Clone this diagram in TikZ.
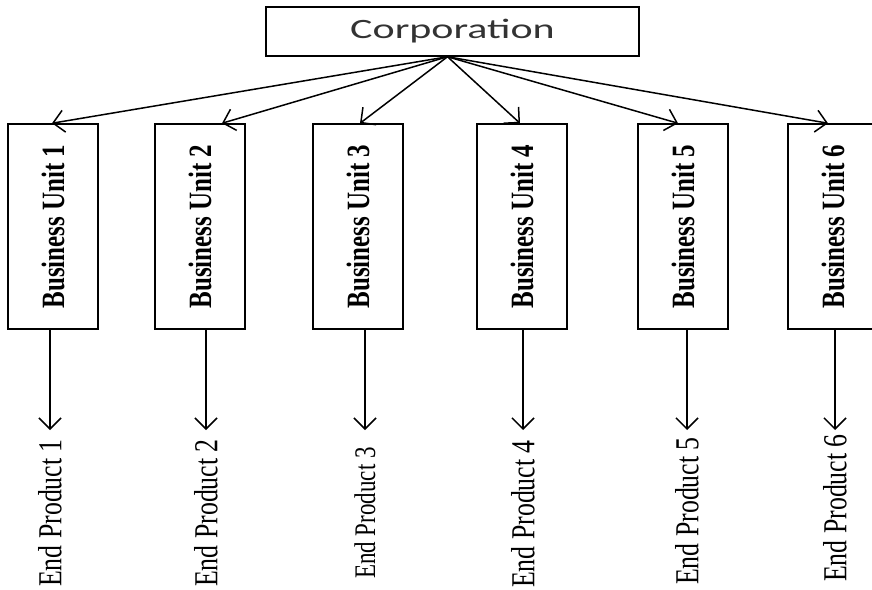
\documentclass[tikz,border=0pt]{standalone}
\usepackage{graphicx}
\usepackage{fontspec}
\setmainfont{Liberation Serif}
\newfontfamily\corpfont{Carlito}
\usetikzlibrary{arrows.meta}

% text turned up the page, a bit widened
\newcommand{\sidetext}[1]{\scalebox{1.3}[1]{\rotatebox{90}{#1}}}

\tikzset{
	corpbox/.style={draw, line width=1.5pt, minimum width=373pt, minimum height=49pt, inner sep=0pt,
		text=black!80, font=\corpfont\fontsize{28}{32}\selectfont},
	unitbox/.style={draw, line width=1.5pt, minimum width=90pt, minimum height=205pt, inner sep=0pt,
		font=\fontsize{25}{30}\selectfont\bfseries},
	product/.style={inner sep=0pt, anchor=north, font=\fontsize{25.8}{30}\selectfont},
	link/.style={line width=1.5pt, -{Straight Barb[length=11pt,width=22pt,line width=1.5pt]}}
}

\begin{document}
\begin{tikzpicture}[x=1pt,y=-1pt]
		\clip (0,0) rectangle (872,589);
		\node [corpbox] (corp) at (452.5,31.5) {\scalebox{1.5}[1]{Corporation}};
		\coordinate (fan) at ([xshift=-5pt]corp.south);
		% business units
		\node [unitbox] (bu1) at (53,226.5) {\sidetext{Business Unit 1}};
		\node [unitbox] (bu2) at (200,226.5) {\sidetext{Business Unit 2}};
		\node [unitbox] (bu3) at (358,226.5) {\sidetext{Business Unit 3}};
		\node [unitbox] (bu4) at (522,226.5) {\sidetext{Business Unit 4}};
		\node [unitbox] (bu5) at (683,226.5) {\sidetext{Business Unit 5}};
		\node [unitbox] (bu6) at (833,226.5) {\sidetext{Business Unit 6}};
		% end products
		\node [product] (ep1) at (50,439) {\sidetext{End Product 1}};
		\node [product] (ep2) at (206,439) {\sidetext{End Product 2}};
		\node [product, font=\fontsize{23}{28}\selectfont] (ep3) at (365,447) {\sidetext{End Product 3}};
		\node [product] (ep4) at (523,440) {\sidetext{End Product 4}};
		\node [product] (ep5) at (687,437) {\sidetext{End Product 5}};
		\node [product] (ep6) at (835,434) {\sidetext{End Product 6}};
		% corporation to units
		\draw [link] (fan) -- ([xshift=-1pt]bu1.north);
		\draw [link] (fan) -- ([xshift=22pt]bu2.north);
		\draw [link] (fan) -- ([xshift=2pt]bu3.north);
		\draw [link] (fan) -- ([xshift=-2pt]bu4.north);
		\draw [link] (fan) -- ([xshift=-5pt]bu5.north);
		\draw [link] (fan) -- ([xshift=-5pt]bu6.north);
		% units to products
		\draw [link] (ep1.north |- bu1.south) -- (ep1.north |- 0,430);
		\draw [link] (ep2.north |- bu2.south) -- (ep2.north |- 0,430);
		\draw [link] (ep3.north |- bu3.south) -- (ep3.north |- 0,430);
		\draw [link] (ep4.north |- bu4.south) -- (ep4.north |- 0,430);
		\draw [link] (ep5.north |- bu5.south) -- (ep5.north |- 0,430);
		\draw [link] (ep6.north |- bu6.south) -- (ep6.north |- 0,430);
\end{tikzpicture}
\end{document}
